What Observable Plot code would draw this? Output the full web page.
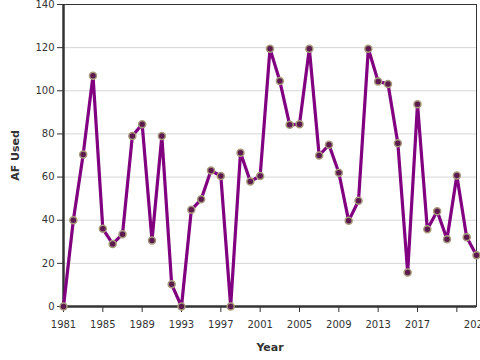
<!DOCTYPE html>
<html>
<head>
<meta charset="utf-8">
<script src="https://cdn.jsdelivr.net/npm/d3@7"></script>
<script src="https://cdn.jsdelivr.net/npm/@observablehq/plot@0.6"></script>
<style>
body { margin: 0; background: #fff; }
#chart svg { font-family: "DejaVu Sans", sans-serif; }
g[aria-label="y-axis label"] text, g[aria-label="x-axis label"] text { font-weight: bold; font-size: 11px; fill: #333; }
</style>
</head>
<body>
<div id="chart"></div>
<script>
const years = [1981,1982,1983,1984,1985,1986,1987,1988,1989,1990,1991,1992,1993,1994,1995,1996,1997,1998,1999,2000,2001,2002,2003,2004,2005,2006,2007,2008,2009,2010,2011,2012,2013,2014,2015,2016,2017,2018,2019,2020,2021,2022,2023];
const afUsed = [0,40,70.5,107,36,29,33.5,79,84.5,30.6,79,10.3,0,44.8,49.7,63,60.5,0,71.3,58,60.5,119.5,104.5,84.2,84.5,119.5,70,75,62,39.7,49,119.5,104.3,103.2,75.7,15.8,93.8,35.8,44.2,31.2,60.7,32.1,23.8];
const xTicks = [1981,1985,1989,1993,1997,2001,2005,2009,2013,2017,2021];
const xLabelled = [1981,1985,1989,1993,1997,2001,2005,2009,2013,2017,2023];
const yTicks = [0,20,40,60,80,100,120,140];

const data = years.map((y, i) => ({year: y, value: afUsed[i]}));

const chart = Plot.plot({
  width: 480,
  height: 360,
  marginTop: 4,
  marginLeft: 63,
  marginRight: 4,
  marginBottom: 54,
  style: {fontSize: "10px", color: "#333", background: "#fff", overflow: "visible"},
  x: {domain: [1981, 2023]},
  y: {domain: [0, 140]},
  marks: [
    Plot.ruleY(yTicks, {stroke: "#d6d6d6", strokeWidth: 1}),
    Plot.frame({stroke: "#333", strokeWidth: 1}),
    Plot.axisY(yTicks, {tickSize: 6, tickPadding: 3, stroke: "#333", strokeWidth: 1, label: "AF Used", labelAnchor: "center", labelArrow: "none", labelOffset: 52, fill: "#333"}),
    Plot.axisX(xTicks, {tickSize: 6, text: null, stroke: "#333", label: "Year", labelAnchor: "center", labelArrow: "none", labelOffset: 44, fill: "#333"}),
    Plot.axisX(xLabelled, {tickSize: 0, tickPadding: 14, tickFormat: d => String(d), label: null, fill: "#333"}),
    Plot.ruleX([1981], {stroke: "#333", strokeWidth: 2.5}),
    Plot.ruleY([0], {stroke: "#333", strokeWidth: 2.5}),
    Plot.line(data, {x: "year", y: "value", stroke: "#800080", strokeWidth: 3.2}),
    Plot.dot(data, {x: "year", y: "value", r: 3.5, fill: "#5c1a4f", stroke: "#a89a7c", strokeWidth: 1.5})
  ]
});
document.getElementById("chart").appendChild(chart);
</script>
</body>
</html>
